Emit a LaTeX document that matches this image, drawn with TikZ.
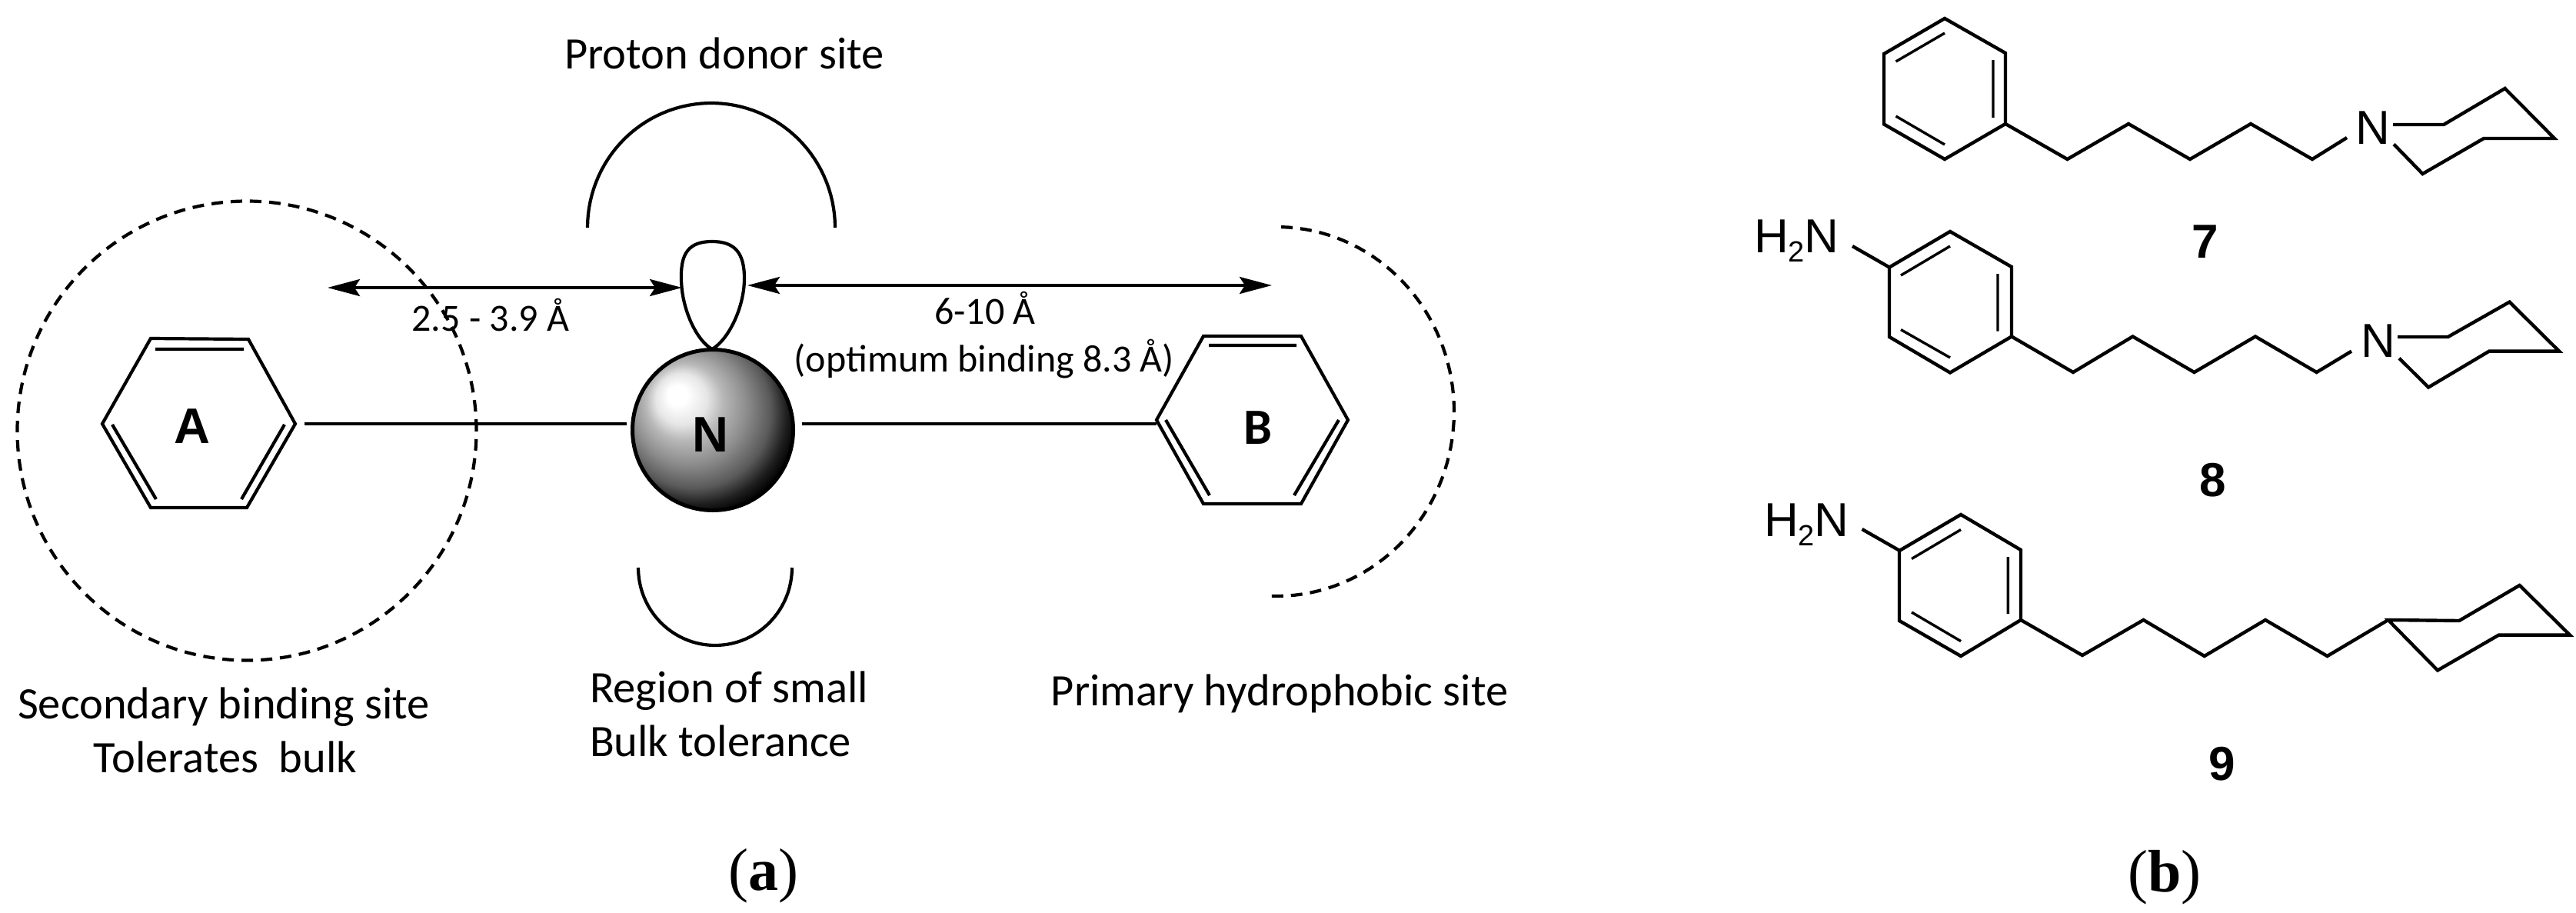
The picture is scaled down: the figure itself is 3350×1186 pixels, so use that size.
\documentclass[tikz,border=0pt]{standalone}
\usepackage{fontspec}
\setmainfont{Carlito}
\newfontfamily\arialf{Liberation Sans}
\newfontfamily\timesf{Liberation Serif}
\usetikzlibrary{arrows.meta}
\pgfdeclareradialshading{ballN}{\pgfpoint{-11.7bp}{11.5bp}}{%
  color(0bp)=(white); color(3bp)=(white); color(8bp)=(black!10); color(12bp)=(black!28);
  color(18bp)=(black!45); color(24bp)=(black!65); color(28bp)=(black!88); color(31bp)=(black); color(50bp)=(black)}
\tikzset{
  every node/.style={inner sep=0pt,outer sep=0pt},
  bond/.style={line width=4.4pt,line join=miter,black},
  thin bond/.style={line width=4.2pt,black},
  dash site/.style={line width=4.2pt,dash pattern=on 15pt off 10pt},
  dbl/.style={arrows={Stealth[length=42pt,width=22pt,inset=7pt]-Stealth[length=42pt,width=22pt,inset=7pt]},line width=3.8pt},
  lbl/.style={anchor=base,font=\fontsize{58.5}{60}\selectfont},
  small lbl/.style={anchor=base,font=\fontsize{50}{54}\selectfont},
  atom/.style={anchor=base,font=\arialf\fontsize{62}{62}\selectfont},
  numlbl/.style={anchor=base,font=\arialf\bfseries\fontsize{62}{62}\selectfont},
  panel/.style={anchor=base,font=\timesf\fontsize{78}{78}\selectfont}
}
\begin{document}
\begin{tikzpicture}[x=1pt,y=-1pt]
\useasboundingbox (0,0) rectangle (3350,1186);
% ---- panel a: sites
\draw[dash site] (321,560) circle[radius=298.5pt];
\draw[dash site] plot[domain=-88.5:92,samples=70] ({1660+231*cos(\x)},{535+240*sin(\x)});
\draw[thin bond] plot[domain=180:360,samples=60] ({925+161*cos(\x)},{296+162*sin(\x)});
\draw[thin bond] plot[domain=0:180,samples=50] ({930+100*cos(\x)},{738+101*sin(\x)});
% ---- rings
\draw[thin bond] (133,551)--(196,440)--(323,441)--(384,551)--(321,660)--(196,660)--cycle;
\draw[thin bond] (202,454)--(317,454) (146,552)--(203,649) (370,552)--(314,649);
\draw[thin bond] (1504,546)--(1565,437)--(1692,437)--(1753,546)--(1692,655)--(1565,655)--cycle;
\draw[thin bond] (1572,449)--(1686,449) (1516,546)--(1573,644) (1741,546)--(1683,644);
% ---- ball and lobe
\draw[thin bond,fill=white] (926,454) .. controls (905,442) and (886,400) .. (886,362)
   .. controls (885,328) and (897,314) .. (926,314)
   .. controls (955,314) and (968,328) .. (968,362)
   .. controls (968,400) and (947,442) .. (926,454);
\node (ball) [circle,minimum size=209pt,draw=black,line width=5pt,shading=ballN] at (927,559) {};
\node (labN) [anchor=base,font=\arialf\bfseries\fontsize{65}{65}\selectfont] at (924,587) {N};
\node (labA) [anchor=base,font=\arialf\bfseries\fontsize{65}{65}\selectfont] at (250,576) {A};
\node (labB) [anchor=base,font=\bfseries\fontsize{66}{66}\selectfont] at (1636,577) {B};
% ---- connectors
\coordinate (aEnd) at (396,551);
\coordinate (nL) at (815,551);
\coordinate (nR) at (1043,551);
\coordinate (bEnd) at (1504,551);
\draw[thin bond] (aEnd)--(nL);
\draw[thin bond] (nR)--(bEnd);
\coordinate (arr1a) at (426,374);
\coordinate (arr1b) at (887,374);
\coordinate (arr2a) at (972,371);
\coordinate (arr2b) at (1654,371);
\draw[dbl] (arr1a)--(arr1b);
\draw[dbl] (arr2a)--(arr2b);
% ---- texts
\node (t1) [lbl] at (942,89) {Proton donor site};
\node (t2) [lbl] at (291,934) {Secondary binding site};
\node (t3) [lbl] at (293,1004) {Tolerates\ \ bulk};
\node (t4) [lbl,anchor=base west] at (767,913) {Region of small};
\node (t5) [lbl,anchor=base west] at (767,983) {Bulk tolerance};
\node (t6) [lbl] at (1664,917) {Primary hydrophobic site};
\node (t7) [small lbl] at (638,430) {2.5 - 3.9 Å};
\node (t8) [small lbl] at (1281,421) {6-10 Å};
\node (t9) [small lbl] at (1280,483) {(optimum binding 8.3 Å)};
\node (pa) [panel] at (993,1157) {({\bfseries a})};
% ---- molecule 7
\draw[bond] (2529,24)--(2608,69)--(2608,161)--(2529,207)--(2450,161.5)--(2450,70)--cycle;
\draw[bond,line width=3.4pt] (2529,43)--(2465.5,80) (2592,78)--(2592,153) (2465.5,151)--(2529,188);
\draw[bond] (2608,161)--(2688.5,207)--(2768,161)--(2848,207)--(2927,161)--(3007,207)--(3052,179);
\node (n7) [atom] at (3086,187) {N};
\draw[bond] (3112,162)--(3178,162)--(3257.6,115)--(3322,180)--(3230,180)--(3150.5,226)--(3113,187.5);
\node (l7) [numlbl] at (2868,335) {7};
% ---- molecule 8
\node (h8) [atom,anchor=base west] at (2281,328) {H\raisebox{-12pt}{\fontsize{38}{38}\selectfont 2}N};
\draw[bond] (2409,320)--(2457,347.5);
\draw[bond] (2536,301)--(2616,347)--(2616,437.5)--(2536,484.5)--(2457,438)--(2457,347.5)--cycle;
\draw[bond,line width=3.4pt] (2536,320)--(2472,358) (2598,356)--(2598,430.5) (2472,428.6)--(2536,465);
\draw[bond] (2616,437.5)--(2696,484)--(2773.5,437.5)--(2853.5,484)--(2933,437.5)--(3012.6,484)--(3058,456.6);
\node (n8) [atom] at (3092.5,464) {N};
\draw[bond] (3118,438)--(3183.5,438)--(3263.5,392.6)--(3328,456.6)--(3237,456.6)--(3158,503.6)--(3120,465.7);
\node (l8) [numlbl] at (2877.5,645) {8};
% ---- molecule 9
\node (h9) [atom,anchor=base west] at (2294,697) {H\raisebox{-12pt}{\fontsize{38}{38}\selectfont 2}N};
\draw[bond] (2421.5,688)--(2470.6,716);
\draw[bond] (2550,669)--(2628,715)--(2628,806)--(2550,853)--(2470,807)--(2470,716)--cycle;
\draw[bond,line width=3.4pt] (2550,688.6)--(2486,726.5) (2611.4,724)--(2611.4,798) (2486,796)--(2550,833.6);
\draw[bond] (2628,806)--(2708,852)--(2787.5,806)--(2866.7,853)--(2946,806)--(3026.5,853)--(3105.7,806);
\draw[bond] (3105.7,806)--(3198,807)--(3276.6,761)--(3342,825.6)--(3249.5,825.6)--(3170,871.5)--cycle;
\node (l9) [numlbl] at (2890,1014) {9};
\node (pb) [panel] at (2815,1159) {({\bfseries b})};
\end{tikzpicture}
\end{document}
